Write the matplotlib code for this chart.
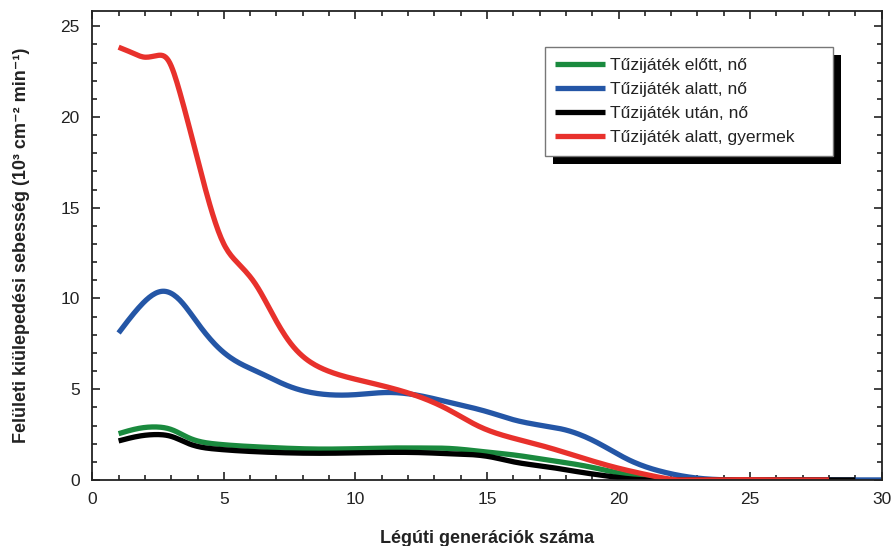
import matplotlib
matplotlib.use("Agg")
import matplotlib.pyplot as plt
import numpy as np
from matplotlib.patches import Rectangle
from matplotlib.transforms import IdentityTransform
from matplotlib.ticker import MultipleLocator

plt.rcParams['font.family'] = ['Liberation Sans', 'DejaVu Sans']

# Légúti generáció (x) és kiülepedési sebesség (y)
green_x = [1, 1.8, 2.4, 3.0, 3.7, 4.7, 6.3, 8.8, 11.3, 12.6, 13.5, 15.1, 16, 17.3, 18.5, 19.8, 20.5, 21.1, 21.5]
green_y = [2.55, 2.85, 2.92, 2.78, 2.3, 1.98, 1.82, 1.7, 1.76, 1.76, 1.74, 1.52, 1.38, 1.1, 0.83, 0.44, 0.22, 0.08, 0.0]

blue_x = [1, 1.8, 2.7, 3.3, 4.0, 4.75, 5.4, 6.3, 7.5, 8.8, 10.0, 11.3, 12.6, 13.5, 15.1, 16, 17.3, 18.0,
          19.2, 20.4, 21.7, 23.0, 24.3, 26, 28, 30]
blue_y = [8.1, 9.55, 10.4, 9.95, 8.65, 7.35, 6.6, 5.95, 5.15, 4.72, 4.7, 4.82, 4.6, 4.3, 3.72, 3.32, 2.95, 2.75,
          2.05, 1.1, 0.44, 0.1, 0.0, 0.0, 0.0, 0.0]

black_x = [1, 1.8, 2.4, 3.0, 3.7, 4.7, 6.3, 8.8, 11.3, 12.6, 13.5, 15.1, 16, 17.3, 18.5, 19.8, 20.5, 21.1, 23, 26, 29]
black_y = [2.15, 2.42, 2.5, 2.4, 1.98, 1.7, 1.55, 1.47, 1.52, 1.5, 1.45, 1.28, 1.0, 0.72, 0.44, 0.17, 0.05, 0.0,
           0.0, 0.0, 0.0]

red_x = [1, 1.5, 2.0, 2.5, 2.9, 3.3, 3.8, 4.4, 5.0, 5.5, 6.2, 6.9, 7.5, 8.8, 10.0, 11.0, 12.2, 13.5, 14.7,
         16, 17.3, 18.5, 19.8, 21.1, 22.1, 24, 26, 28]
red_y = [23.85, 23.55, 23.3, 23.4, 23.1, 21.5, 18.8, 15.5, 13.0, 12.0, 10.8, 9.0, 7.6, 6.1, 5.55, 5.2, 4.7, 3.9,
         2.95, 2.3, 1.8, 1.27, 0.72, 0.28, 0.02, 0.0, 0.0, 0.0]

labels = ['Tűzijáték előtt, nő', 'Tűzijáték alatt, nő', 'Tűzijáték után, nő', 'Tűzijáték alatt, gyermek']
colors = ['#1a8a3e', '#2456a6', '#000000', '#e8312c']


def smooth(xs, ys, n=500):
    # natural cubic spline through the read points, clipped at zero
    xs = np.asarray(xs, float)
    ys = np.asarray(ys, float)
    npts = len(xs)
    h = np.diff(xs)
    A = np.zeros((npts, npts))
    r = np.zeros(npts)
    A[0, 0] = A[-1, -1] = 1
    for i in range(1, npts - 1):
        A[i, i - 1] = h[i - 1]
        A[i, i] = 2 * (h[i - 1] + h[i])
        A[i, i + 1] = h[i]
        r[i] = 6 * ((ys[i + 1] - ys[i]) / h[i] - (ys[i] - ys[i - 1]) / h[i - 1])
    M = np.linalg.solve(A, r)
    xx = np.linspace(xs[0], xs[-1], n)
    k = np.clip(np.searchsorted(xs, xx) - 1, 0, npts - 2)
    a = xs[k + 1] - xx
    b = xx - xs[k]
    hk = h[k]
    yy = (M[k] * a**3 / (6 * hk) + M[k + 1] * b**3 / (6 * hk)
          + (ys[k] / hk - M[k] * hk / 6) * a + (ys[k + 1] / hk - M[k + 1] * hk / 6) * b)
    return xx, np.clip(yy, 0, None)


fig, ax = plt.subplots(figsize=(8.96, 5.46), dpi=100)
fig.subplots_adjust(left=0.103, right=0.984, top=0.98, bottom=0.121)

series = [(green_x, green_y), (blue_x, blue_y), (black_x, black_y), (red_x, red_y)]
for (sx, sy), lab, col in zip(series, labels, colors):
    xx, yy = smooth(sx, sy)
    ax.plot(xx, yy, color=col, lw=3.8, solid_capstyle='butt', label=lab)

ax.set_xlim(0, 30)
ax.set_ylim(0, 25.85)
ax.xaxis.set_major_locator(MultipleLocator(5))
ax.xaxis.set_minor_locator(MultipleLocator(1))
ax.yaxis.set_major_locator(MultipleLocator(5))
ax.yaxis.set_minor_locator(MultipleLocator(1))
ax.tick_params(which='both', direction='in', top=True, right=True, width=1.2, colors='#222222',
               labelcolor='#222222')
ax.tick_params(which='major', length=6, labelsize=12.5, pad=9)
ax.tick_params(which='minor', length=3.5)
for sp in ax.spines.values():
    sp.set_linewidth(1.3)
    sp.set_color('#222222')

ax.set_xlabel('Légúti generációk száma', fontsize=13, fontweight='bold', labelpad=16, color='#222222')
ax.set_ylabel('Felületi kiülepedési sebesség (10³ cm⁻² min⁻¹)', fontsize=13, fontweight='bold',
              labelpad=22, color='#222222')

leg = ax.legend(loc='upper left', bbox_to_anchor=(0.573, 0.923, 0.365, 0), mode='expand',
                fontsize=12.6, handlelength=2.85, handletextpad=0.3, borderpad=0.6, borderaxespad=0,
                labelspacing=0.51, fancybox=False, framealpha=1, edgecolor='#777777')
leg.get_frame().set_linewidth(1.0)
leg.set_zorder(6)
for t in leg.get_texts():
    t.set_color('#222222')

# solid black drop shadow behind the legend box
fig.canvas.draw()
bb = leg.get_window_extent()
shadow = Rectangle((bb.x0 + 8, bb.y0 - 8), bb.width, bb.height, transform=IdentityTransform(),
                   facecolor='black', edgecolor='none', zorder=5.5, clip_on=False)
ax.add_artist(shadow)

plt.savefig('out.png', dpi=100)
